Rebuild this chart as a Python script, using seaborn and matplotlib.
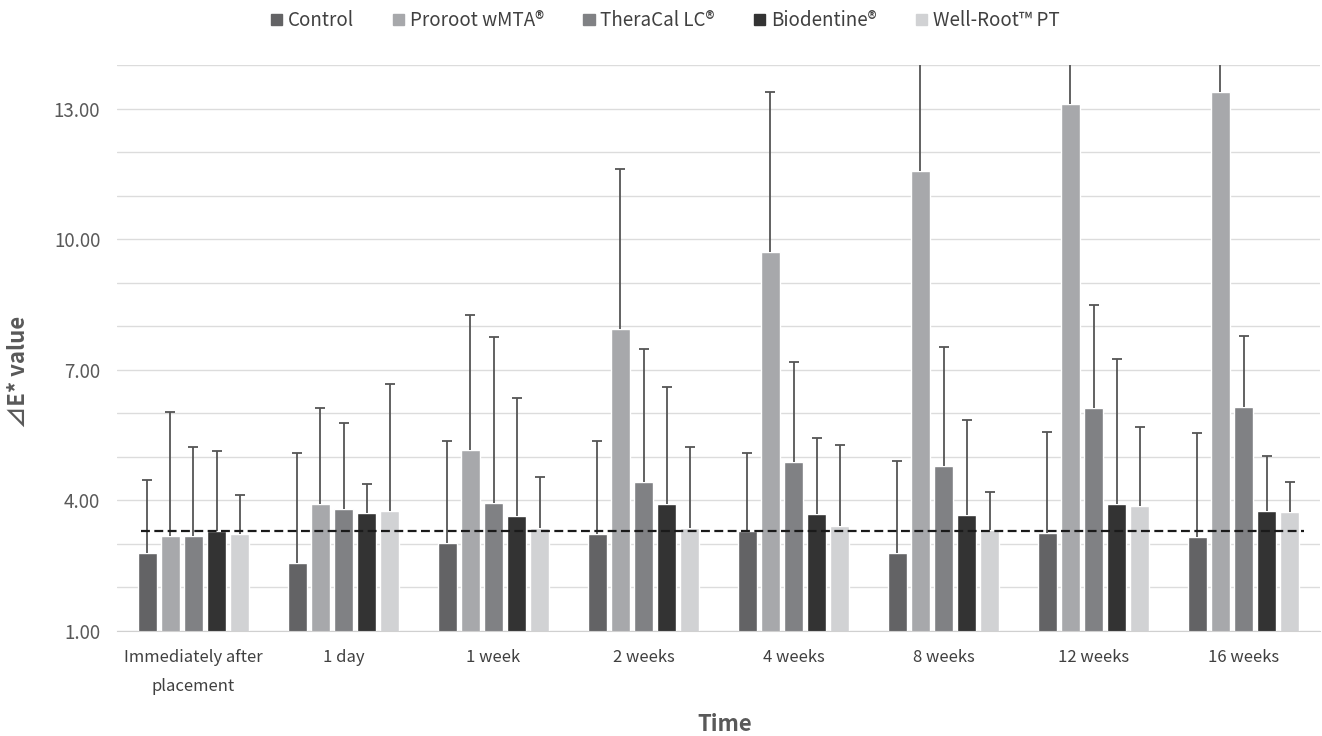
import numpy as np
import pandas as pd
import seaborn as sns
import matplotlib.pyplot as plt

times = ["Immediately after\nplacement", "1 day", "1 week", "2 weeks",
         "4 weeks", "8 weeks", "12 weeks", "16 weeks"]
materials = ["Control", "Proroot wMTA®", "TheraCal LC®", "Biodentine®", "Well-Root™ PT"]
colors = ["#636365", "#a7a8ab", "#808184", "#333333", "#d1d2d4"]

# mean dE* per time point for each material
control = [2.79, 2.56, 3.02, 3.23, 3.30, 2.79, 3.25, 3.16]
proroot = [3.18, 3.92, 5.16, 7.94, 9.71, 11.57, 13.11, 13.39]
theracal = [3.18, 3.80, 3.94, 4.42, 4.89, 4.79, 6.13, 6.15]
biodentine = [3.30, 3.71, 3.64, 3.92, 3.69, 3.67, 3.92, 3.76]
wellroot = [3.23, 3.76, 3.37, 3.37, 3.41, 3.32, 3.87, 3.74]

# standard deviations (upper whisker only)
control_sd = [1.68, 2.53, 2.35, 2.14, 1.79, 2.12, 2.32, 2.39]
proroot_sd = [2.85, 2.21, 3.10, 3.66, 3.68, 4.20, 4.10, 4.00]
theracal_sd = [2.05, 1.98, 3.82, 3.06, 2.29, 2.74, 2.36, 1.63]
biodentine_sd = [1.84, 0.67, 2.72, 2.69, 1.75, 2.18, 3.33, 1.26]
wellroot_sd = [0.90, 2.92, 1.17, 1.86, 1.86, 0.88, 1.82, 0.68]

threshold = 3.3

means = [control, proroot, theracal, biodentine, wellroot]
sds = [control_sd, proroot_sd, theracal_sd, biodentine_sd, wellroot_sd]

rows = []
for m, vals, errs in zip(materials, means, sds):
    for t, v, e in zip(times, vals, errs):
        rows.append({"Time": t, "Material": m, "value": v, "sd": e})
df = pd.DataFrame(rows)

sns.set_style("white")
plt.rcParams["font.family"] = ["Noto Sans CJK KR", "DejaVu Sans"]
txt = "#595959"

fig = plt.figure(figsize=(13.22, 7.36), dpi=100)
ax = fig.add_axes([0.0885, 0.1427, 0.91, 0.769])

sns.barplot(data=df, x="Time", y="value", hue="Material", hue_order=materials,
            palette=colors, width=0.77, gap=0.2, errorbar=None, ax=ax,
            saturation=1)

# one-sided error bars on top of each bar
for cont, m in zip(ax.containers, materials):
    sub = df[df["Material"] == m]
    xs = [p.get_x() + p.get_width() / 2 for p in cont.patches]
    hs = [p.get_height() for p in cont.patches]
    eb = ax.errorbar(xs, hs, yerr=[np.zeros(len(hs)), sub["sd"].values],
                     fmt="none", ecolor="#555555", elinewidth=1.3, capsize=3.5,
                     capthick=1.3, zorder=3)
    eb.lines[1][0].set_visible(False)  # hide the lower cap

ax.hlines(threshold, -0.35, 7.4, colors="#1a1a1a", linestyles=(0, (4, 2)),
          linewidth=1.6, zorder=4)

ax.set_ylim(1, 14)
ax.set_xlim(-0.51, 7.51)
ax.set_yticks([1, 4, 7, 10, 13])
ax.set_yticks(np.arange(1, 15, 1), minor=True)
ax.set_yticklabels([f"{v:.2f}" for v in [1, 4, 7, 10, 13]], fontsize=13.5, color=txt)
ax.grid(axis="y", which="both", color="#dcdcdc", linewidth=1)
ax.set_axisbelow(True)
ax.tick_params(axis="both", which="both", length=0)
ax.tick_params(axis="y", pad=12)
ax.tick_params(axis="x", labelsize=12, labelcolor="#404040", pad=13)
for lab in ax.get_xticklabels():
    lab.set_linespacing(1.95)
    lab.set_verticalalignment("top")
for s in ["left", "right", "top"]:
    ax.spines[s].set_visible(False)
ax.spines["bottom"].set_color("#d0d0d0")

ax.set_xlabel("Time", fontsize=16, fontweight="bold", color=txt)
ax.set_ylabel("⊿E* value", fontsize=16, fontweight="bold", color=txt)
ax.xaxis.set_label_coords(0.505, -0.145)
ax.yaxis.set_label_coords(-0.072, 0.458)

ax.legend_.remove()
handles = [plt.Rectangle((0, 0), 1, 1, color=c) for c in colors]
fig.legend(handles, materials, loc="center", bbox_to_anchor=(0.503, 0.972),
           ncol=5, frameon=False, fontsize=13.5, handlelength=0.6, handleheight=0.6,
           handletextpad=0.3, columnspacing=2.1, labelcolor="#404040")

fig.savefig("out.png", dpi=100)
